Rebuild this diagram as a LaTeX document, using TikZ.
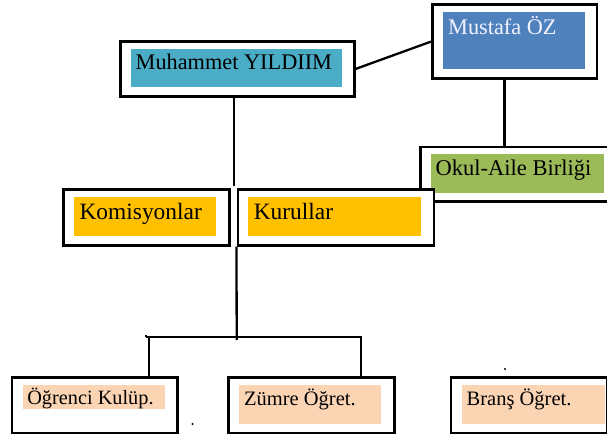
\documentclass[tikz,border=0pt]{standalone}
\usepackage{fontspec}
\setmainfont{Liberation Serif}
\definecolor{cteal}{HTML}{4BACC6}
\definecolor{cblue}{HTML}{4F81BD}
\definecolor{cgreen}{HTML}{9BBB59}
\definecolor{cgold}{HTML}{FFC000}
\definecolor{cpeach}{HTML}{FBD4B4}
\begin{document}
\begin{tikzpicture}[x=1pt,y=-1pt,
  outer/.style={draw=black,line width=2.6pt,fill=white,rectangle,inner sep=0pt,anchor=north west},
  fillbox/.style={draw=none,rectangle,inner sep=0pt,anchor=north west},
  lbl/.style={anchor=base west,inner sep=0pt},
  conn/.style={draw=black,line width=2.3pt}]
\useasboundingbox (0,0) rectangle (607,435);
% Mustafa
\node[outer,minimum width=164.5pt,minimum height=74pt] (mu) at (431,3.3) {};
\node[fillbox,fill=cblue,minimum width=141.7pt,minimum height=57pt] (muf) at (442.9,12) {};
\node[lbl,font=\fontsize{22.3}{24}\selectfont,text=white!95!blue] (mut) at (448,34.3) {Mustafa ÖZ};
% Muhammet
\node[outer,minimum width=234pt,minimum height=54.7pt] (mo) at (119,40.3) {};
\node[fillbox,fill=cteal,minimum width=211pt,minimum height=37.7pt] (mof) at (130.9,49) {};
\node[lbl,font=\fontsize{22.3}{24}\selectfont] (mot) at (135.5,70) {Muhammet YILDIIM};
% connectors top
\draw[conn] (mo.east) -- (mu.west);
\coordinate (oatop) at (504.5,150.7);
\draw[conn] (oatop |- mu.south) -- (oatop);
\coordinate (kutop) at (234.2,185.7);
\draw[conn] (kutop |- mo.south) -- (kutop);
% Okul-Aile
\node[outer,minimum width=190pt,minimum height=54.3pt] (oa) at (419.3,145.7) {};
\node[fillbox,fill=cgreen,minimum width=173.1pt,minimum height=38.7pt] (oaf) at (430.9,154) {};
\node[lbl,font=\fontsize{22.5}{24}\selectfont] (oat) at (435.5,176) {Okul-Aile Birliği};
% Komisyonlar
\node[outer,minimum width=165.7pt,minimum height=55.7pt] (ko) at (62.3,188.3) {};
\node[fillbox,fill=cgold,minimum width=142pt,minimum height=38.7pt] (kof) at (74,197) {};
\node[lbl,font=\fontsize{23.4}{25}\selectfont] (kot) at (79.4,219.3) {Komisyonlar};
% Kurullar
\node[outer,minimum width=196.3pt,minimum height=55.7pt] (ku) at (236.5,188.3) {};
\node[fillbox,fill=cgold,minimum width=173pt,minimum height=38.7pt] (kuf) at (248.2,197) {};
\node[lbl,font=\fontsize{23.4}{25}\selectfont] (kut) at (253.6,219.3) {Kurullar};
% bottom boxes
\node[outer,minimum width=165.5pt,minimum height=55.7pt] (og) at (10.7,376) {};
\node[fillbox,fill=cpeach,minimum width=142.3pt,minimum height=23.7pt] (ogf) at (22.7,385) {};
\node[lbl,font=\fontsize{20.3}{22}\selectfont] (ogt) at (27.1,404) {Öğrenci Kulüp.};
\node[outer,minimum width=165.7pt,minimum height=55.7pt] (zu) at (227.3,376) {};
\node[fillbox,fill=cpeach,minimum width=142.1pt,minimum height=38.7pt] (zuf) at (238.9,385) {};
\node[lbl,font=\fontsize{20.5}{22}\selectfont] (zut) at (243.9,405) {Zümre Öğret.};
\node[outer,minimum width=156.5pt,minimum height=55.4pt] (br) at (449.5,376.3) {};
\node[fillbox,fill=cpeach,minimum width=143pt,minimum height=38.3pt] (brf) at (461.8,385) {};
\node[lbl,font=\fontsize{20.5}{22}\selectfont] (brt) at (466.5,405) {Branş Öğret.};
% lower connectors
\coordinate (jn) at (236.7,340);
\draw[conn] (ku.south west) -- (jn);
\coordinate (hl) at (146,337.3);
\coordinate (hr) at (362.3,337.3);
\draw[conn] (hl) -- (hr);
\draw[conn] (146,335.3) -- (hl);
\coordinate (lv) at (149.3,337.3);
\draw[conn] (lv) -- (lv |- og.north);
\coordinate (rv) at (361,337.3);
\draw[conn] (rv) -- (rv |- zu.north);
% stray dots
\fill (192.5,424) circle (1.2pt);
\fill (505,369) circle (1.2pt);
\end{tikzpicture}
\end{document}
